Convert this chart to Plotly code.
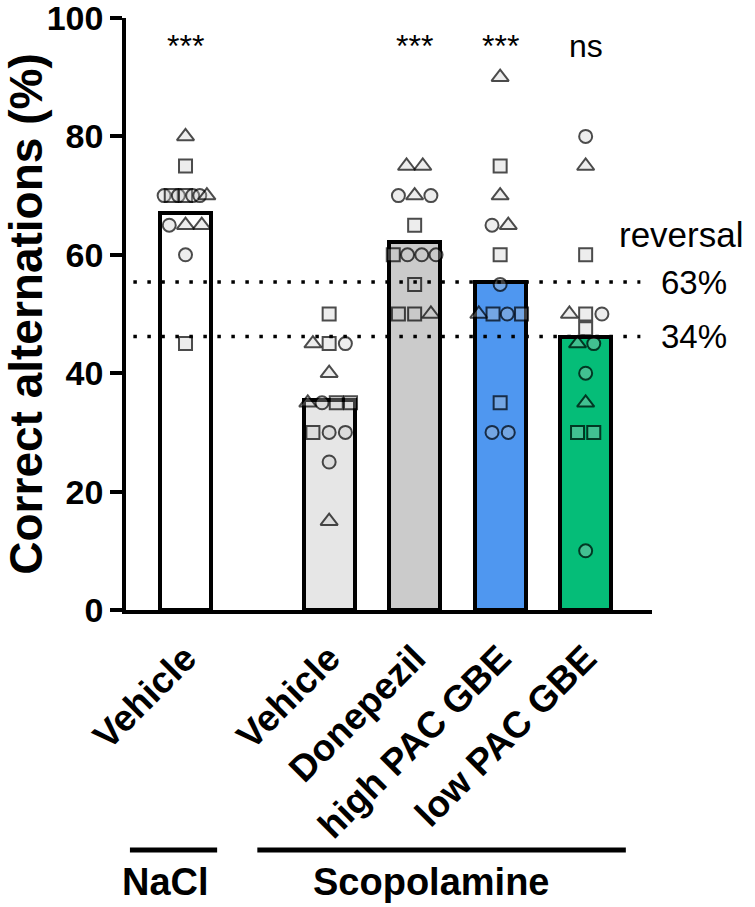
import plotly.graph_objects as go
import numpy as np

# ---------------- data ----------------
categories = ["Vehicle", "Vehicle", "Donepezil", "high PAC GBE", "low PAC GBE"]
treatment_groups = ["NaCl", "Scopolamine"]
means = [67.1, 35.4, 62.1, 55.4, 46.2]
significance = ["***", "", "***", "***", "ns"]
reversal_labels = ["63%", "34%"]

nacl_vehicle_vals = [80, 75, 70, 70, 70, 70, 70, 70, 70, 65, 65, 65, 60, 45]
nacl_vehicle_shapes = ["t", "s", "c", "s", "c", "s", "c", "c", "t", "c", "t", "t", "c", "s"]

scop_vehicle_vals = [50, 45, 45, 45, 40, 35, 35, 35, 35, 30, 30, 30, 25, 15]
scop_vehicle_shapes = ["s", "t", "s", "c", "t", "t", "c", "s", "s", "s", "c", "c", "c", "t"]

donepezil_vals = [75, 75, 70, 70, 70, 65, 60, 60, 60, 60, 55, 50, 50, 50]
donepezil_shapes = ["t", "t", "c", "t", "c", "s", "s", "c", "c", "c", "s", "s", "s", "t"]

high_pac_vals = [90, 75, 70, 65, 65, 60, 55, 50, 50, 50, 50, 35, 30, 30]
high_pac_shapes = ["t", "s", "t", "c", "t", "s", "c", "t", "s", "c", "s", "s", "c", "c"]

low_pac_vals = [80, 75, 60, 50, 50, 50, 47.5, 45, 45, 40, 35, 30, 30, 10]
low_pac_shapes = ["c", "t", "s", "t", "s", "c", "s", "t", "c", "c", "t", "s", "s", "c"]

all_vals = [nacl_vehicle_vals, scop_vehicle_vals, donepezil_vals, high_pac_vals, low_pac_vals]
all_shapes = [nacl_vehicle_shapes, scop_vehicle_shapes, donepezil_shapes, high_pac_shapes, low_pac_shapes]

# ---------------- layout helpers ----------------
group_gap = 0.68
positions = [0.0] + [i + group_gap for i in range(1, 5)]
bar_colors = ["#ffffff", "#e6e6e6", "#cbcbcb", "#4f97f0", "#05bd78"]
symbol_map = {"c": "circle", "s": "square", "t": "triangle-up"}

fig = go.Figure()

fig.add_trace(go.Bar(
    x=positions, y=means, width=0.6,
    marker=dict(color=bar_colors, line=dict(color="black", width=4)),
    showlegend=False, hoverinfo="skip",
))

for pos, vals, shps in zip(positions, all_vals, all_shapes):
    vals = np.array(vals, dtype=float)
    xs = np.zeros(len(vals))
    for v in np.unique(vals):
        idx = np.where(vals == v)[0]
        n = len(idx)
        if n > 1:
            sp = min(0.19, 0.5 / (n - 1))
            for k, i in enumerate(idx):
                xs[i] = (k - (n - 1) / 2) * sp
    fig.add_trace(go.Scatter(
        x=pos + xs, y=vals, mode="markers",
        marker=dict(
            symbol=[symbol_map[s] for s in shps],
            size=[15 if s == "t" else 13 for s in shps],
            color="rgba(200,200,200,0.45)",
            line=dict(color="black", width=2),
        ),
        showlegend=False, hoverinfo="skip", cliponaxis=False,
    ))

# plot geometry
L, R, T, B = 126, 103, 18, 297
W, H = 755, 907
pw = W - L - R
ph = H - T - B
x_left = -0.696
x_right = 5.456

# dotted reversal lines
for m in (means[3], means[4]):
    fig.add_shape(type="line", xref="x", yref="y", x0=-0.61, x1=5.32, y0=m, y1=m,
                  line=dict(color="black", width=3.5, dash="3.5px,10.5px"))

annotations = []
for pos, s in zip(positions, significance):
    if s:
        annotations.append(dict(x=pos, y=95.3, xref="x", yref="y", text=s, showarrow=False,
                                font=dict(size=32, color="black", family="Liberation Sans")))

annotations.append(dict(x=(617 - L) / pw, y=63.5, xref="paper", yref="y", text="reversal",
                        xanchor="left", yanchor="middle", showarrow=False,
                        font=dict(size=35, color="black", family="Liberation Sans")))
for m, t in zip((means[3], means[4]), reversal_labels):
    annotations.append(dict(x=(659 - L) / pw, y=m, xref="paper", yref="y", text=t,
                            xanchor="left", yanchor="middle", showarrow=False,
                            font=dict(size=33, color="black", family="Liberation Sans")))

# group brackets
line_y = (610 - 850) / ph
text_y = (610 - 882) / ph
bracket_spans = [(-0.65, 0.37), (0.84, 5.15)]
for (a, b), name in zip(bracket_spans, treatment_groups):
    fig.add_shape(type="line", xref="x", yref="paper", x0=a, x1=b, y0=line_y, y1=line_y,
                  line=dict(color="black", width=5))
label_x = [-0.23, 2.88]
for lx, name in zip(label_x, treatment_groups):
    annotations.append(dict(x=lx, y=text_y, xref="x", yref="paper", text=name, showarrow=False,
                            xanchor="center", yanchor="middle",
                            font=dict(size=38, color="black", family="Liberation Sans", weight="bold")))

fig.update_layout(
    width=W, height=H,
    margin=dict(l=L, r=R, t=T, b=B, autoexpand=False),
    paper_bgcolor="white", plot_bgcolor="white",
    font=dict(family="Liberation Sans", color="black"),
    annotations=annotations,
    bargap=0,
    xaxis=dict(
        range=[x_left, x_right], tickvals=positions, ticktext=categories,
        tickangle=-45, ticks="", showgrid=False, zeroline=False,
        showline=True, linecolor="black", linewidth=3.5,
        tickfont=dict(size=37, family="Liberation Sans", weight="bold", color="black"),
        ticklabelstandoff=8, ticklabeloverflow="allow",
    ),
    yaxis=dict(
        range=[0, 100], tickvals=[0, 20, 40, 60, 80, 100], showgrid=False, zeroline=False,
        showline=True, linecolor="black", linewidth=3.5,
        ticks="outside", ticklen=12, tickwidth=3.5, tickcolor="black",
        tickfont=dict(size=34, family="Liberation Sans", weight="bold", color="black"),
        ticklabeloverflow="allow",
        title=dict(text="Correct alternations (%)", standoff=8,
                   font=dict(size=46, family="Liberation Sans", weight="bold", color="black")),
    ),
)

fig.write_html("out.html")
